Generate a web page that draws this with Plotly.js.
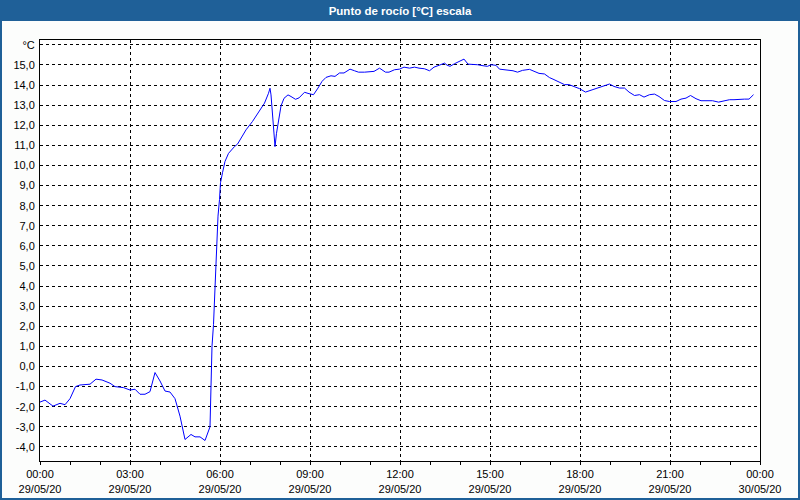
<!DOCTYPE html>
<html>
<head>
<meta charset="utf-8">
<script src="https://cdn.plot.ly/plotly-3.0.1.min.js"></script>
<style>
html,body{margin:0;padding:0;background:#fcfdfc;}
#chart{width:800px;height:500px;}
</style>
</head>
<body>
<div id="chart"></div>
<script>
// Hours since 29/05/20 00:00
const hours = [0.0,0.17,0.44,0.67,0.83,1.0,1.19,1.33,1.67,1.86,2.06,2.33,2.5,2.78,3.0,3.17,3.33,3.5,3.67,3.83,4.0,4.17,4.33,4.5,4.67,4.83,5.03,5.17,5.33,5.5,5.67,5.7,5.74,5.78,5.83,5.89,5.94,5.98,6.02,6.08,6.17,6.28,6.39,6.48,6.59,6.7,6.87,7.09,7.31,7.48,7.61,7.67,7.7,7.76,7.83,7.89,7.96,8.03,8.14,8.26,8.37,8.51,8.64,8.81,8.96,9.11,9.26,9.4,9.53,9.7,9.84,9.98,10.14,10.33,10.48,10.62,10.81,10.98,11.14,11.31,11.51,11.64,11.81,11.98,12.14,12.31,12.48,12.64,12.81,12.98,13.14,13.31,13.48,13.56,13.67,13.81,13.98,14.14,14.26,14.42,14.59,14.76,14.92,15.03,15.2,15.31,15.53,15.76,15.92,16.09,16.31,16.48,16.64,16.81,16.98,17.14,17.31,17.48,17.64,17.81,17.98,18.18,18.31,18.48,18.64,18.81,18.98,19.14,19.31,19.48,19.64,19.81,19.98,20.14,20.31,20.48,20.64,20.81,20.98,21.2,21.37,21.53,21.68,21.87,22.03,22.2,22.42,22.62,22.81,22.98,23.14,23.31,23.48,23.64,23.78];
const dewPoint = [-1.77,-1.67,-1.97,-1.83,-1.9,-1.6,-1.0,-0.92,-0.88,-0.63,-0.67,-0.83,-1.0,-1.05,-1.17,-1.13,-1.38,-1.38,-1.25,-0.3,-0.72,-1.22,-1.27,-1.6,-2.47,-3.63,-3.38,-3.5,-3.5,-3.68,-3.0,-0.98,1.01,2.09,4.0,5.82,7.48,8.31,9.14,9.64,10.2,10.6,10.8,10.94,11.06,11.36,11.77,12.19,12.72,13.1,13.59,13.84,13.51,11.94,10.94,11.6,12.43,12.96,13.34,13.51,13.43,13.29,13.36,13.64,13.57,13.52,13.85,14.18,14.38,14.46,14.43,14.6,14.6,14.79,14.71,14.64,14.64,14.68,14.68,14.84,14.64,14.64,14.76,14.79,14.89,14.84,14.89,14.84,14.81,14.71,14.89,14.99,15.09,14.99,14.93,15.06,15.17,15.29,15.04,15.04,15.01,14.96,14.93,15.01,14.98,14.79,14.76,14.71,14.64,14.73,14.78,14.68,14.58,14.55,14.37,14.27,14.15,14.02,14.02,13.93,13.82,13.65,13.72,13.82,13.9,13.98,14.05,13.93,13.85,13.85,13.65,13.48,13.52,13.4,13.52,13.55,13.43,13.23,13.18,13.18,13.3,13.35,13.48,13.32,13.22,13.22,13.22,13.15,13.22,13.27,13.27,13.3,13.3,13.3,13.52];
const yTickVals = [-4,-3,-2,-1,0,1,2,3,4,5,6,7,8,9,10,11,12,13,14,15,16];
const yTickText = ["-4,0","-3,0","-2,0","-1,0","0,0","1,0","2,0","3,0","4,0","5,0","6,0","7,0","8,0","9,0","10,0","11,0","12,0","13,0","14,0","15,0","°C"];
const titleText = "Punto de rocío [°C] escala";

function toDate(h){
  const m = Math.round(h*60);
  const hh = String(Math.floor(m/60)).padStart(2,'0');
  const mm = String(m%60).padStart(2,'0');
  return "2020-05-29 " + hh + ":" + mm + ":00";
}
const xs = hours.map(toDate);

const W=800,H=500,L=40,R=40,T=40,B=39;
const pw=W-L-R, ph=H-T-B;
const px = x => (x-L)/pw;
const py = y => (H-B-y)/ph;

const font = {family:"Liberation Sans, Arial, sans-serif", size:11, color:"#000"};

const trace = {x:xs, y:dewPoint, type:"scatter", mode:"lines",
  line:{color:"#0000ff", width:1}, hoverinfo:"skip"};

const layout = {
  width:W, height:H,
  margin:{l:L,r:R,t:T,b:B,pad:0},
  paper_bgcolor:"#fcfdfc", plot_bgcolor:"#ffffff",
  font:font,
  showlegend:false,
  title:{text:"<b>"+titleText+"</b>", x:0.5, xref:"paper", xanchor:"center",
    y:1-10.5/H, yref:"container", yanchor:"middle",
    font:{family:"Liberation Sans, Arial, sans-serif", size:11.5, color:"#ffffff"}},
  xaxis:{type:"date", range:["2020-05-29 00:00","2020-05-30 00:00"],
    tickmode:"linear", tick0:"2020-05-29 00:00", dtick:3*3600000,
    tickformat:"%H:%M<br>%d/%m/%y",
    ticks:"outside", ticklen:3, tickcolor:"#000", tickwidth:1,
    showgrid:true, gridcolor:"#000", griddash:"3px,3px", gridwidth:1,
    minor:{dtick:3600000, tick0:"2020-05-29 00:00", ticks:"outside", ticklen:3, tickcolor:"#000", showgrid:false},
    showline:true, linecolor:"#000", linewidth:1, mirror:true,
    zeroline:false, fixedrange:true, tickfont:font},
  yaxis:{range:[-4.70,16.24], tickmode:"array", tickvals:yTickVals, ticktext:yTickText,
    ticks:"", showgrid:true, gridcolor:"#000", griddash:"3px,3px", gridwidth:1,
    showline:true, linecolor:"#000", linewidth:1, mirror:true,
    zeroline:false, fixedrange:true, tickfont:font, ticklabelstandoff:2},
  shapes:[
    {type:"rect", xref:"paper", yref:"paper", x0:px(0), x1:px(W), y0:py(0), y1:py(21),
      fillcolor:"#1f6098", line:{width:0}, layer:"below"},
    {type:"rect", xref:"paper", yref:"paper", x0:px(1), x1:px(W-1), y0:py(1), y1:py(H-1),
      fillcolor:"rgba(0,0,0,0)", line:{color:"#1f6098", width:2}}
  ]
};

Plotly.newPlot("chart", [trace], layout, {displayModeBar:false, staticPlot:true});
</script>
</body>
</html>
